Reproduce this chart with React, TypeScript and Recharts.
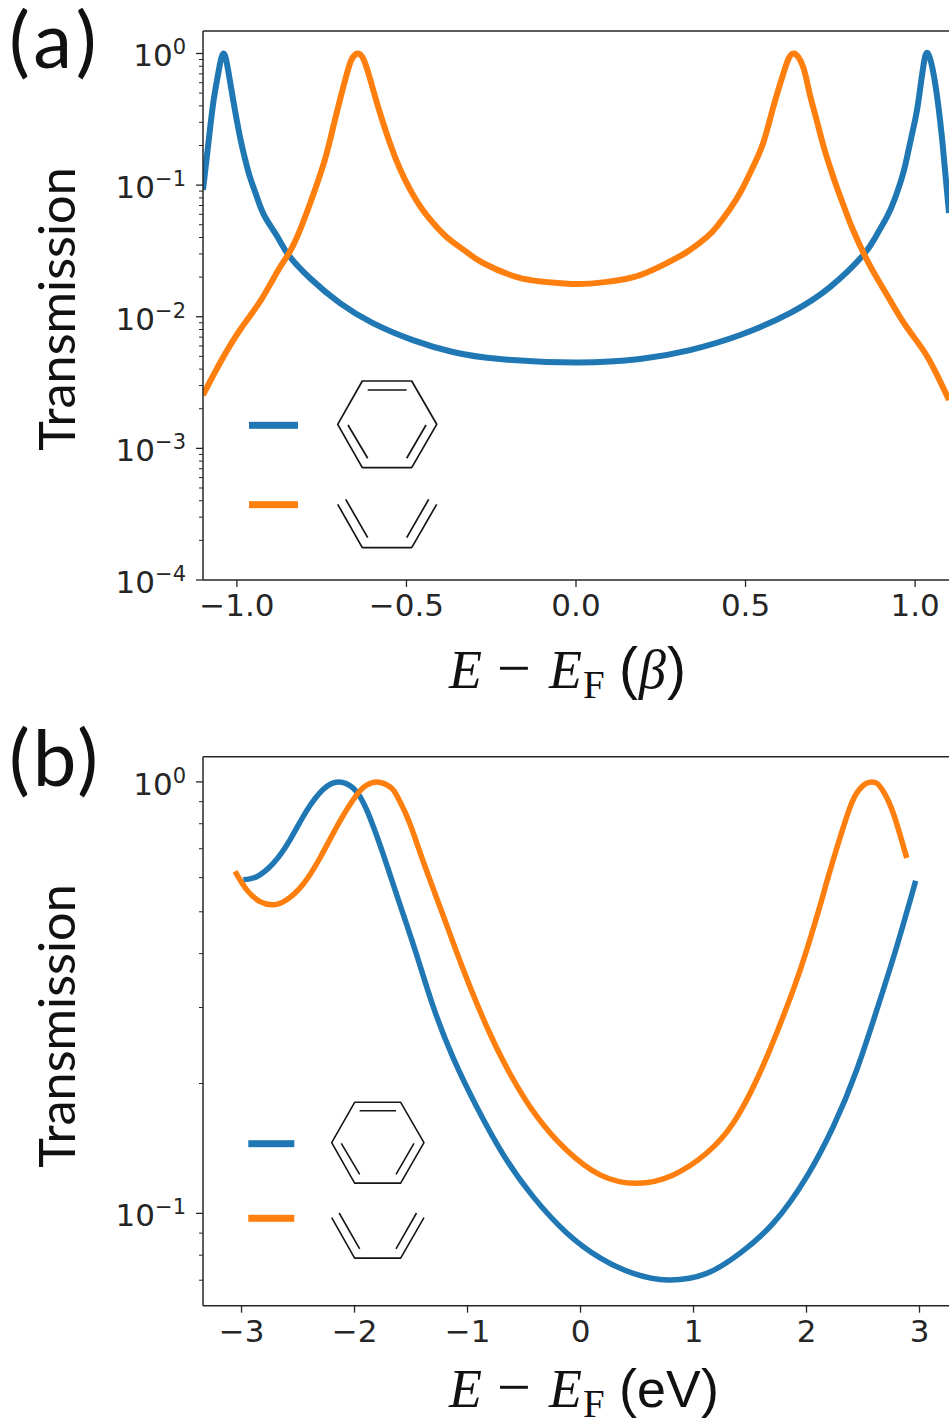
import { Legend, Line, LineChart, ReferenceLine, XAxis, YAxis } from "recharts";

const BLUE = "#1f77b4";
const ORANGE = "#ff7f0e";
const INK = "#262626";

// panel (a), Hueckel model
const huckelBenzeneX = [-1.1, -1.083, -1.07, -1.055, -1.04, -1.026, -1.011, -0.991, -0.976, -0.962, -0.94, -0.917, -0.88, -0.849, -0.785, -0.696, -0.599, -0.481, -0.363, -0.224, 0, 0.189, 0.336, 0.484, 0.631, 0.749, 0.847, 0.885, 0.917, 0.941, 0.965, 0.982, 1.0, 1.0103, 1.024, 1.038, 1.059, 1.08, 1.1];
const huckelBenzeneT = [0.0918, 0.22, 0.418, 0.707, 1, 0.749, 0.443, 0.233, 0.158, 0.116, 0.0798, 0.0572, 0.0403, 0.0297, 0.0197, 0.0127, 0.00895, 0.00665, 0.0054, 0.00477, 0.00449, 0.00477, 0.00558, 0.00726, 0.01067, 0.0168, 0.0294, 0.041, 0.0573, 0.0798, 0.1236, 0.1914, 0.312, 0.443, 0.789, 1, 0.597, 0.22, 0.0614];
const huckelDieneX = [-1.1, -1.05, -0.991, -0.932, -0.883, -0.849, -0.814, -0.77, -0.752, -0.735, -0.706, -0.676, -0.661, -0.645, -0.627, -0.608, -0.593, -0.578, -0.549, -0.519, -0.49, -0.454, -0.416, -0.378, -0.327, -0.274, -0.174, -0.091, 0, 0.091, 0.189, 0.286, 0.336, 0.386, 0.419, 0.454, 0.487, 0.519, 0.552, 0.581, 0.611, 0.628, 0.643, 0.661, 0.676, 0.69, 0.708, 0.729, 0.749, 0.77, 0.794, 0.817, 0.858, 0.891, 0.926, 0.973, 1.024, 1.062, 1.1];
const huckelDieneT = [0.00254, 0.00445, 0.00793, 0.013, 0.0215, 0.0297, 0.0456, 0.0918, 0.1258, 0.1754, 0.351, 0.698, 0.908, 1, 0.908, 0.651, 0.475, 0.353, 0.209, 0.1325, 0.0933, 0.0658, 0.0497, 0.0396, 0.0316, 0.0256, 0.02, 0.0184, 0.0177, 0.0184, 0.0207, 0.027, 0.0321, 0.0403, 0.0497, 0.0658, 0.0902, 0.1325, 0.209, 0.385, 0.698, 0.925, 1, 0.893, 0.698, 0.484, 0.324, 0.2018, 0.1374, 0.0951, 0.0647, 0.0456, 0.027, 0.019, 0.0134, 0.0085, 0.00558, 0.00373, 0.00233];

// panel (b), DFT
const dftBenzeneX = [-2.984, -2.865, -2.718, -2.571, -2.423, -2.276, -2.143, -2.01, -1.892, -1.745, -1.597, -1.45, -1.303, -1.126, -0.919, -0.683, -0.418, -0.122, 0.173, 0.467, 0.777, 1.117, 1.412, 1.706, 2.002, 2.237, 2.444, 2.65, 2.798, 2.931, 2.966];
const dftBenzeneT = [0.593, 0.603, 0.648, 0.734, 0.858, 0.962, 1, 0.967, 0.861, 0.678, 0.519, 0.397, 0.301, 0.229, 0.1766, 0.1367, 0.1092, 0.0901, 0.0789, 0.0726, 0.0701, 0.0726, 0.0809, 0.0949, 0.1217, 0.159, 0.215, 0.312, 0.415, 0.547, 0.59];
const dftDieneX = [-3.058, -2.954, -2.836, -2.719, -2.6, -2.453, -2.305, -2.128, -1.981, -1.898, -1.804, -1.712, -1.657, -1.597, -1.509, -1.391, -1.214, -1.037, -0.83, -0.625, -0.388, -0.122, 0.173, 0.497, 0.821, 1.117, 1.352, 1.559, 1.736, 1.883, 2.002, 2.135, 2.193, 2.356, 2.444, 2.518, 2.577, 2.624, 2.68, 2.768, 2.887];
const dftDieneT = [0.62, 0.562, 0.528, 0.519, 0.533, 0.58, 0.667, 0.812, 0.933, 0.981, 1, 0.984, 0.958, 0.899, 0.799, 0.653, 0.489, 0.367, 0.271, 0.211, 0.168, 0.14, 0.1228, 0.1174, 0.1228, 0.138, 0.162, 0.204, 0.262, 0.33, 0.408, 0.533, 0.604, 0.831, 0.942, 0.989, 1, 0.992, 0.95, 0.846, 0.666];

const huckelXTicks = [-1, -0.5, 0, 0.5, 1];
const dftXTicks = [-3, -2, -1, 0, 1, 2, 3];
const huckelMajorY = [1, 0.1, 0.01, 0.001, 0.0001];
const huckelMinorY = [
  0.9, 0.8, 0.7, 0.6, 0.5, 0.4, 0.3, 0.2,
  0.09, 0.08, 0.07, 0.06, 0.05, 0.04, 0.03, 0.02,
  0.009, 0.008, 0.007, 0.006, 0.005, 0.004, 0.003, 0.002,
  0.0009, 0.0008, 0.0007, 0.0006, 0.0005, 0.0004, 0.0003, 0.0002,
];
const dftMajorY = [1, 0.1];
const dftMinorY = [0.9, 0.8, 0.7, 0.6, 0.5, 0.4, 0.3, 0.2, 0.09, 0.08, 0.07];

function toPoints(xs: number[], ts: number[]) {
  return xs.map((x, i) => ({ x, t: ts[i] }));
}

function formatMinus(text: string): string {
  return text.replace("-", "\u2212");
}

function XTick({ x, y, payload, digits }: any) {
  return (
    <g>
      <line x1={x} x2={x} y1={y} y2={y + 7} stroke={INK} strokeWidth={1.3} />
      <text x={x} y={y + 36} textAnchor="middle" fontFamily="DejaVu Sans" fontSize={31} fill={INK}>
        {formatMinus(payload.value.toFixed(digits))}
      </text>
    </g>
  );
}

function YTick({ x, y, payload, majors }: any) {
  const isMajor = majors.includes(payload.value);
  if (!isMajor) {
    return <line x1={x} x2={x - 4} y1={y} y2={y} stroke={INK} strokeWidth={1} />;
  }
  const exponent = Math.round(Math.log10(payload.value));
  return (
    <g>
      <line x1={x} x2={x - 7} y1={y} y2={y} stroke={INK} strokeWidth={1.3} />
      <text x={x - 17} y={y + 13} textAnchor="end" fontFamily="DejaVu Sans" fontSize={31} fill={INK}>
        10
        <tspan dy={-12} fontSize={21}>
          {formatMinus(String(exponent))}
        </tspan>
      </text>
    </g>
  );
}

function Molecule({ x, y, scale, closed }: { x: number; y: number; scale: number; closed: boolean }) {
  return (
    <g transform={`translate(${x} ${y}) scale(${scale})`} fill="none" stroke="#161616" strokeWidth={1.7} strokeLinejoin="round">
      {closed ? (
        <>
          <path d="M0 43.3 L24.6 0 L74 0 L99 43.3 L74 86.7 L24.6 86.7 Z" />
          <path d="M30 9 L69 9 M10.3 44 L30 77.3 M88.3 44 L69 77.3" />
        </>
      ) : (
        <>
          <path d="M0 43.3 L24.6 86.7 L74 86.7 L99 43.3" />
          <path d="M8 38.3 L30 76.7 M91 38.3 L69 76.7" />
        </>
      )}
    </g>
  );
}

function MoleculeLegend({ payload, config }: any) {
  return (
    <svg width={949} height={700} style={{ display: "block", overflow: "visible" }}>
      {(payload ?? []).map((entry: any, i: number) => {
        const row = config.rows[i];
        return (
          <g key={entry.value}>
            <rect x={config.swatchX} y={row.swatchY - 3.5} width={config.swatchW} height={7} fill={entry.color} />
            <Molecule x={config.moleculeX} y={row.moleculeY} scale={config.scale} closed={i === 0} />
          </g>
        );
      })}
    </svg>
  );
}

interface PanelProps {
  top: number;
  height: number;
  marginTop: number;
  axisHeight: number;
  xDomain: number[];
  yDomain: number[];
  xTicks: number[];
  xDigits: number;
  majors: number[];
  minors: number[];
  benzene: { x: number; t: number }[];
  diene: { x: number; t: number }[];
  lineWidth: number;
  legendConfig: any;
}

function Panel(props: PanelProps) {
  const { top, height, marginTop, axisHeight, xDomain, yDomain, xTicks, xDigits, majors, minors, benzene, diene, lineWidth, legendConfig } = props;
  return (
    <div style={{ position: "absolute", left: 0, top }}>
      <LineChart width={949} height={height} margin={{ top: marginTop, right: 0, bottom: 0, left: 0 }}>
        <XAxis
          type="number"
          dataKey="x"
          domain={xDomain}
          ticks={xTicks}
          interval={0}
          allowDataOverflow
          height={axisHeight}
          tickSize={0}
          tickMargin={0}
          tickLine={false}
          axisLine={{ stroke: INK, strokeWidth: 1.5 }}
          tick={<XTick digits={xDigits} />}
        />
        <YAxis
          type="number"
          scale="log"
          domain={yDomain}
          ticks={[...majors, ...minors]}
          interval={0}
          allowDataOverflow
          width={203}
          tickSize={0}
          tickMargin={0}
          tickLine={false}
          axisLine={{ stroke: INK, strokeWidth: 1.5 }}
          tick={<YTick majors={majors} />}
        />
        <ReferenceLine y={yDomain[1]} stroke={INK} strokeWidth={1.5} />
        <Legend
          layout="vertical"
          align="center"
          verticalAlign="middle"
          wrapperStyle={{ left: 0, top: 0, width: 949, height }}
          content={<MoleculeLegend config={legendConfig} />}
        />
        <Line data={benzene} dataKey="t" name="benzene" type="natural" dot={false} stroke={BLUE} strokeWidth={lineWidth} strokeLinejoin="round" isAnimationActive={false} />
        <Line data={diene} dataKey="t" name="butadiene" type="natural" dot={false} stroke={ORANGE} strokeWidth={lineWidth} strokeLinejoin="round" isAnimationActive={false} />
      </LineChart>
    </div>
  );
}

const serif = "Liberation Serif";
const sans = "Liberation Sans";

function EnergyStem({ baseline }: { baseline: number }) {
  return (
    <text y={baseline} fontFamily={serif} fontSize={54} fill="#111">
      <tspan x={449} fontStyle="italic">E</tspan>
      <tspan x={497} fontSize={60}>{"\u2212"}</tspan>
      <tspan x={549} fontStyle="italic">E</tspan>
      <tspan x={583} dy={10} fontSize={39}>F</tspan>
    </text>
  );
}

export default function App() {
  return (
    <div style={{ position: "absolute", left: 0, top: 0, width: 949, height: 1419, overflow: "hidden", background: "#fff" }}>
      <Panel
        top={0}
        height={700}
        marginTop={31}
        axisHeight={120}
        xDomain={[-1.1, 1.1]}
        yDomain={[0.0001, 1.482]}
        xTicks={huckelXTicks}
        xDigits={1}
        majors={huckelMajorY}
        minors={huckelMinorY}
        benzene={toPoints(huckelBenzeneX, huckelBenzeneT)}
        diene={toPoints(huckelDieneX, huckelDieneT)}
        lineWidth={6}
        legendConfig={{
          swatchX: 249,
          swatchW: 49,
          moleculeX: 337.7,
          scale: 1,
          rows: [
            { swatchY: 425.3, moleculeY: 381 },
            { swatchY: 504.7, moleculeY: 461 },
          ],
        }}
      />
      <Panel
        top={720}
        height={699}
        marginTop={36.7}
        axisHeight={113.3}
        xDomain={[-3.341, 3.261]}
        yDomain={[0.0611, 1.144]}
        xTicks={dftXTicks}
        xDigits={0}
        majors={dftMajorY}
        minors={dftMinorY}
        benzene={toPoints(dftBenzeneX, dftBenzeneT)}
        diene={toPoints(dftDieneX, dftDieneT)}
        lineWidth={5.5}
        legendConfig={{
          swatchX: 248.3,
          swatchW: 46,
          moleculeX: 331.7,
          scale: 0.932,
          rows: [
            { swatchY: 423.7, moleculeY: 382.3 },
            { swatchY: 498.3, moleculeY: 457.3 },
          ],
        }}
      />
      <svg width={949} height={1419} style={{ position: "absolute", left: 0, top: 0, pointerEvents: "none" }}>
        <text x={9} y={68} fontFamily="Lato" fontSize={78} letterSpacing={5} fill="#111">(a)</text>
        <text x={9} y={786} fontFamily="Lato" fontSize={78} letterSpacing={3} fill="#111">(b)</text>
        <text transform="translate(75 309) rotate(-90)" textAnchor="middle" fontFamily="Lato" fontSize={50.5} fill="#111">Transmission</text>
        <text transform="translate(75 1026) rotate(-90)" textAnchor="middle" fontFamily="Lato" fontSize={50.5} fill="#111">Transmission</text>
        <EnergyStem baseline={688} />
        <text y={688} fontFamily={sans} fontSize={57} fill="#111">
          <tspan x={619}>(</tspan>
          <tspan x={639} fontFamily={serif} fontStyle="italic" fontSize={54}>{"\u03b2"}</tspan>
          <tspan x={667}>)</tspan>
        </text>
        <EnergyStem baseline={1407} />
        <text y={1407} fontFamily={sans} fontSize={54} fill="#111">
          <tspan x={619}>(</tspan>
          <tspan x={637} fontSize={52}>eV</tspan>
          <tspan x={701}>)</tspan>
        </text>
      </svg>
    </div>
  );
}
